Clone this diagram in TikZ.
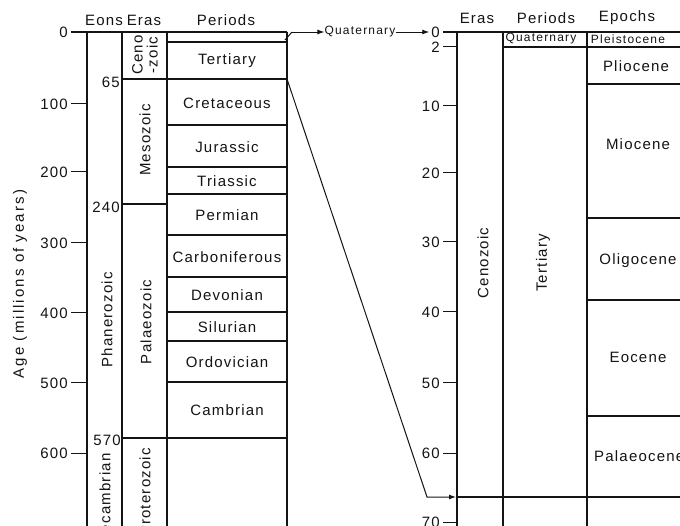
\documentclass[tikz,border=0pt]{standalone}
\usepackage{fontspec}
\setmainfont{Liberation Sans}[LetterSpace=8]
\usetikzlibrary{arrows.meta}
\definecolor{inkcolor}{RGB}{20, 20, 20}
\tikzset{
chartline/.style={
  line width=1.2pt,
  draw=inkcolor
},
tickline/.style={
  line width=1.0pt,
  draw=inkcolor
},
headtext/.style={
  font=\fontsize{15}{17}\selectfont,
  text=inkcolor,
  inner sep=0pt
},
celltext/.style={
  font=\fontsize{15}{17}\selectfont,
  text=inkcolor,
  inner sep=0pt,
  align=center
},
smalltext/.style={
  font=\fontsize{12}{14}\selectfont\addfontfeature{LetterSpace=10},
  text=inkcolor,
  inner sep=0pt
},
ticktext/.style={
  font=\fontsize{15}{17}\selectfont,
  text=inkcolor,
  anchor=east,
  inner sep=0pt
},
sidetext/.style={
  celltext,
  rotate=90
},
arrow/.style={
  -{Latex[length=7pt,width=5pt]},
  line width=0.9pt,
  draw=inkcolor
}
}

\begin{document}
\begin{tikzpicture}[x=1pt, y=-1pt]
\useasboundingbox (0, 0) rectangle (680, 526);
\fill[white] (0, 0) rectangle (680, 526);

% ============================================================================
% ESCALA GERAL (0 - 600)
% ============================================================================
\draw[chartline] (71, 32) -- (287, 32);
\draw[chartline] (87, 32) -- (87, 540);
\draw[chartline] (122, 32) -- (122, 540);
\draw[chartline] (167, 32) -- (167, 540);
\draw[chartline] (287, 32) -- (287, 540);

% limites dos periodos
\draw[chartline] (167, 42) -- (287, 42);
\draw[chartline] (122, 79) -- (287, 79);
\draw[chartline] (167, 125) -- (287, 125);
\draw[chartline] (167, 167) -- (287, 167);
\draw[chartline] (167, 194) -- (287, 194);
\draw[chartline] (122, 204) -- (167, 204);
\draw[chartline] (167, 235) -- (287, 235);
\draw[chartline] (167, 277) -- (287, 277);
\draw[chartline] (167, 312) -- (287, 312);
\draw[chartline] (167, 341) -- (287, 341);
\draw[chartline] (167, 382) -- (287, 382);
\draw[chartline] (122, 438) -- (287, 438);

% marcas do eixo
\draw[tickline] (71, 104) -- (87, 104);
\draw[tickline] (71, 172) -- (87, 172);
\draw[tickline] (71, 243) -- (87, 243);
\draw[tickline] (71, 313) -- (87, 313);
\draw[tickline] (71, 383) -- (87, 383);
\draw[tickline] (71, 453) -- (87, 453);

\node[ticktext] (lt0) at (68, 32) {0};
\node[ticktext] (lt100) at (68, 104) {100};
\node[ticktext] (lt200) at (68, 172) {200};
\node[ticktext] (lt300) at (68, 243) {300};
\node[ticktext] (lt400) at (68, 313) {400};
\node[ticktext] (lt500) at (68, 383) {500};
\node[ticktext] (lt600) at (68, 453) {600};

\node[celltext, rotate=90, font=\fontsize{15}{17}\selectfont\addfontfeature{LetterSpace=14}] (agetitle) at (20, 284) {Age (millions of years)};

% cabecalhos
\node[headtext] (eonshead) at (104, 20) {Eons};
\node[headtext] (erashead) at (144, 20) {Eras};
\node[headtext] (periodshead) at (226, 20) {Periods};

% idades dos limites
\node[ticktext] (age65) at (120, 82) {65};
\node[ticktext] (age240) at (120, 207) {240};
\node[ticktext] (age570) at (121, 440) {570};

% eons e eras
\node[sidetext] (phanero) at (107, 320) {Phanerozoic};
\node[sidetext] (precamb) at (105, 502) {Precambrian};
\node[sidetext, font=\fontsize{15}{15}\selectfont] (cenoleft) at (145, 55) {Ceno\\-zoic};
\node[sidetext] (meso) at (145, 140) {Mesozoic};
\node[sidetext] (palaeo) at (146, 322) {Palaeozoic};
\node[sidetext] (protero) at (145, 492) {Proterozoic};

% periodos
\node[celltext] (tertiary) at (227, 61) {Tertiary};
\node[celltext] (cretaceous) at (227, 103) {Cretaceous};
\node[celltext] (jurassic) at (227, 147) {Jurassic};
\node[celltext] (triassic) at (227, 181) {Triassic};
\node[celltext] (permian) at (227, 215) {Permian};
\node[celltext] (carbon) at (227, 257) {Carboniferous};
\node[celltext] (devonian) at (227, 295) {Devonian};
\node[celltext] (silurian) at (227, 327) {Silurian};
\node[celltext] (ordovician) at (227, 362) {Ordovician};
\node[celltext] (cambrian) at (227, 410) {Cambrian};

% ============================================================================
% LIGACOES
% ============================================================================
\coordinate (quatcorner) at (285, 40);
\coordinate (quatbend) at (292, 32);
\coordinate (tertcorner) at (287, 79);
\coordinate (tertbend) at (427, 497);
\coordinate (rline65) at (456, 497);

\node[smalltext] (quatlink) at (360, 32) {Quaternary};
\node[ticktext] (rt0) at (440, 32) {0};

\draw[tickline] (quatcorner) -- (quatbend);
\draw[arrow] (quatbend) -- (quatlink.west);
\draw[arrow] (quatlink.east) -- ([xshift=-2pt]rt0.west);
\draw[arrow, line width=1.0pt] (tertcorner) -- (tertbend) -- (rline65);

% ============================================================================
% ESCALA DO CENOZOICO (0 - 70)
% ============================================================================
\draw[chartline] (443, 32) -- (700, 32);
\draw[chartline] (457, 32) -- (457, 540);
\draw[chartline] (503, 32) -- (503, 540);
\draw[chartline] (587, 32) -- (587, 540);

\draw[chartline] (503, 47) -- (700, 47);
\draw[chartline] (587, 84) -- (700, 84);
\draw[chartline] (587, 218) -- (700, 218);
\draw[chartline] (587, 300) -- (700, 300);
\draw[chartline] (587, 416) -- (700, 416);
\draw[chartline] (457, 497) -- (700, 497);

\draw[tickline] (443, 47) -- (457, 47);
\draw[tickline] (443, 106) -- (457, 106);
\draw[tickline] (443, 173) -- (457, 173);
\draw[tickline] (443, 242) -- (457, 242);
\draw[tickline] (443, 312) -- (457, 312);
\draw[tickline] (443, 383) -- (457, 383);
\draw[tickline] (443, 453) -- (457, 453);
\draw[tickline] (443, 522) -- (457, 522);

\node[ticktext] (rt2) at (440, 47) {2};
\node[ticktext] (rt10) at (440, 106) {10};
\node[ticktext] (rt20) at (440, 173) {20};
\node[ticktext] (rt30) at (440, 242) {30};
\node[ticktext] (rt40) at (440, 312) {40};
\node[ticktext] (rt50) at (440, 383) {50};
\node[ticktext] (rt60) at (440, 453) {60};
\node[ticktext] (rt70) at (440, 522) {70};

% cabecalhos
\node[headtext] (rerashead) at (477, 18) {Eras};
\node[headtext] (rperiodshead) at (546, 18) {Periods};
\node[headtext] (epochshead) at (627, 18) {Epochs};

% eras, periodos e epocas
\node[sidetext] (cenoright) at (483, 263) {Cenozoic};
\node[sidetext] (tertright) at (543, 263) {Tertiary};
\node[smalltext] (quatright) at (541, 39) {Quaternary};
\node[smalltext] (pleisto) at (628, 39) {Pleistocene};
\node[celltext] (plio) at (636, 66) {Pliocene};
\node[celltext] (mio) at (638, 144) {Miocene};
\node[celltext] (oligo) at (638, 261) {Oligocene};
\node[celltext] (eocene) at (638, 357) {Eocene};
\node[celltext, anchor=west] (palaeocene) at (594, 456) {Palaeocene};

\end{tikzpicture}
\end{document}
